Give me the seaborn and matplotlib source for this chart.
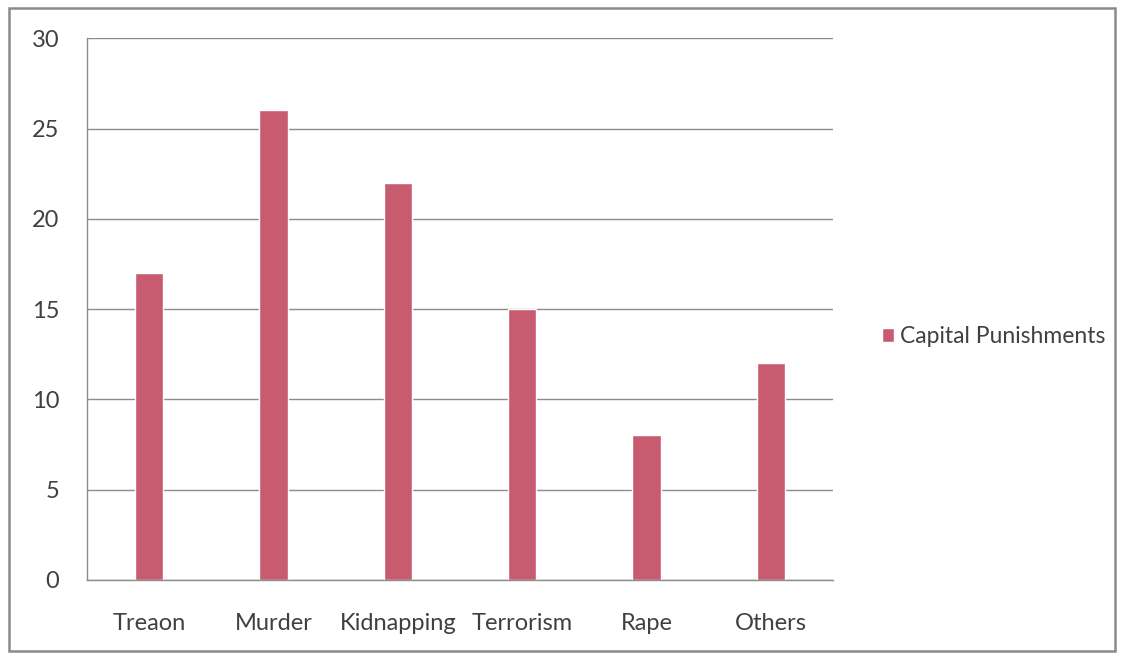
import pandas as pd
import matplotlib.pyplot as plt
import seaborn as sns
from matplotlib.patches import Rectangle

# Data
crimes = ["Treaon", "Murder", "Kidnapping", "Terrorism", "Rape", "Others"]
counts = [17, 26, 22, 15, 8, 12]
series_name = "Capital Punishments"

df = pd.DataFrame({"Crime": crimes, "Count": counts, "Series": series_name})

sns.set_style("white")
plt.rcParams["font.family"] = ["Lato", "DejaVu Sans"]

fig = plt.figure(figsize=(11.24, 6.59), dpi=100)
ax = fig.add_axes([0.0774, 0.12, 0.6637, 0.822])

bar_color = "#C75C70"
sns.barplot(data=df, x="Crime", y="Count", hue="Series", palette=[bar_color],
            width=0.23, ax=ax, saturation=1)

ax.set_ylim(0, 30)
ax.set_xlim(-0.5, len(crimes) - 0.5)
ax.set_yticks(range(0, 31, 5))
ax.yaxis.grid(True, color="#8c8c8c", linewidth=1)
ax.set_axisbelow(True)
ax.set_xlabel("")
ax.set_ylabel("")

grey = "#8c8c8c"
for side in ["top", "right"]:
    ax.spines[side].set_visible(False)
for side in ["left", "bottom"]:
    ax.spines[side].set_color(grey)
    ax.spines[side].set_linewidth(1)

# category boundary ticks on x axis
ax.set_xticks([i - 0.5 for i in range(len(crimes) + 1)], minor=True)
ax.tick_params(axis="x", which="minor", length=6, color=grey, direction="out")
ax.tick_params(axis="x", which="major", length=0, pad=24, labelsize=17, labelcolor="#404040")
ax.tick_params(axis="y", length=7, color=grey, direction="out", pad=13,
               labelsize=17, labelcolor="#404040")

ax.legend(loc="center left", bbox_to_anchor=(0.766, 0.489), bbox_transform=fig.transFigure,
          frameon=False, fontsize=16.5, handlelength=0.55, handleheight=0.55,
          handletextpad=0.25, labelcolor="#404040")

# outer frame of the chart
fig.patches.append(Rectangle((0.008, 0.012), 0.984, 0.976, transform=fig.transFigure,
                             fill=False, edgecolor="#8a8a8a", linewidth=1.8))

fig.savefig("out.png", dpi=100)
